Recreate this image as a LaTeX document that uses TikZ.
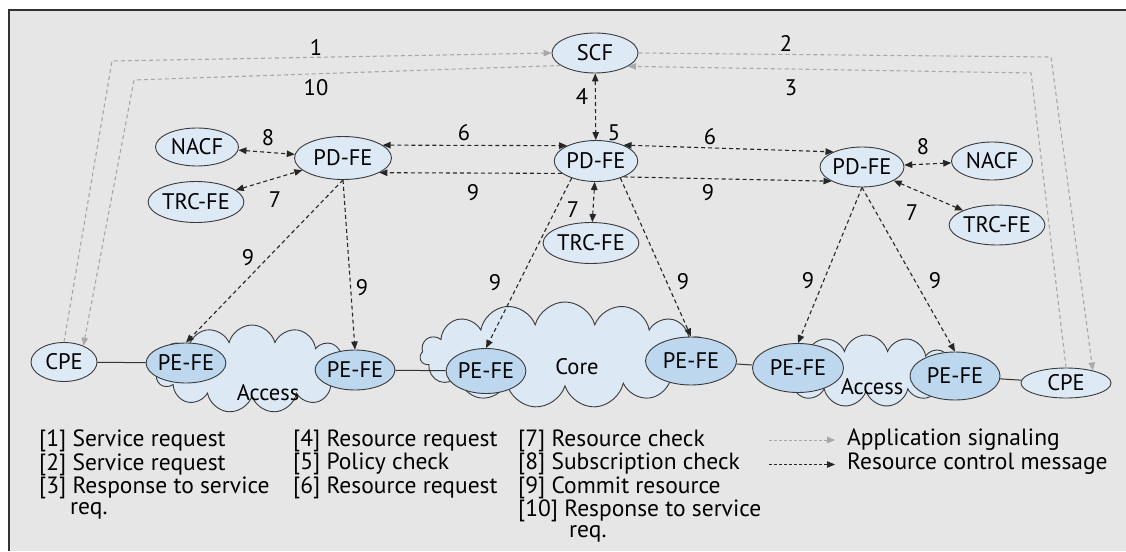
\documentclass[tikz,border=0pt]{standalone}
\usepackage{fontspec}
\setmainfont{PT Sans}
\usepackage{tikz}
\usetikzlibrary{arrows.meta}
\usetikzlibrary{shapes.geometric,shapes.symbols}
\usetikzlibrary{positioning}

\definecolor{panel}{HTML}{E6E6E6}
\definecolor{feblue}{HTML}{DDEAF6}
\definecolor{peblue}{HTML}{BDD7EE}
\definecolor{cloudblue}{HTML}{DCE9F5}
\definecolor{edgegray}{HTML}{3A3A3A}
\definecolor{appgray}{HTML}{A8A8A8}

\begin{document}
\begin{tikzpicture}[
	x=1pt, y=-1pt,
	font=\fontsize{22.5}{21.5}\selectfont,
  > = {Triangle[length=8pt,width=6.5pt]},
  fe/.style = {draw=edgegray, fill=feblue, ellipse, inner sep=0pt, line width=0.9pt},
  pe/.style = {fe, fill=peblue},
  net/.style = {draw=edgegray, fill=cloudblue, cloud, cloud puffs=13, cloud ignores aspect, inner sep=0pt, line width=0.9pt},
  rc/.style = {draw=black!85, dash pattern=on 4pt off 3pt, line width=1.1pt},
  app/.style = {draw=appgray, dash pattern=on 4pt off 3pt, line width=1.1pt, >={Triangle[length=8pt,width=6.5pt,fill=appgray]}},
  num/.style = {inner sep=1pt},
  link/.style = {draw=black!80, line width=1pt},
  key/.style = {inner sep=0pt, font=\fontsize{23.5}{21.5}\selectfont}
  ]
	\useasboundingbox (0,0) rectangle (1126,551);
	\fill[white] (0,0) rectangle (1126,551);
	\fill[panel] (9,10) rectangle (1126,551);
	\draw[line width=1.6pt, draw=black!80] (9,551) -- (9,10) -- (1126,10);

	% networks
	\node[net, minimum width=196pt, minimum height=88pt] (accL) at (252,369) {};
	\node[net, minimum width=290pt, minimum height=106pt, cloud puffs=15] (core) at (565,355) {};
	\node[net, minimum width=182pt, minimum height=72pt] (accR) at (866,371) {};
	\node (accLtxt) at (268,393) {Access};
	\node (coretxt) at (577,367) {Core};
	\node (accRtxt) at (872,387) {Access};

	% functional entities
	\node[fe, minimum width=86pt, minimum height=40pt] (scf) at (595,53) {SCF};
	\node[fe, minimum width=97pt, minimum height=43pt] (pdL) at (343,158) {PD-FE};
	\node[fe, minimum width=82pt, minimum height=41pt] (pdM) at (596,161) {PD-FE};
	\node[fe, minimum width=84pt, minimum height=40pt] (pdR) at (862,167) {PD-FE};
	\node[fe, minimum width=83pt, minimum height=38pt] (nacfL) at (197,147) {NACF};
	\node[fe, minimum width=91pt, minimum height=41pt] (trcL) at (196,202) {TRC-FE};
	\node[fe, minimum width=90pt, minimum height=41pt] (trcM) at (591,243) {TRC-FE};
	\node[fe, minimum width=81pt, minimum height=38pt] (nacfR) at (992,161) {NACF};
	\node[fe, minimum width=90pt, minimum height=40pt] (trcR) at (997,225) {TRC-FE};
	\node[fe, minimum width=66pt, minimum height=39pt] (cpeL) at (64,362) {CPE};
	\node[fe, minimum width=90pt, minimum height=30pt] (cpeR) at (1066,383) {CPE};

	\node[pe, minimum width=79pt, minimum height=40pt] (pe1) at (186,363) {PE-FE};
	\node[pe, minimum width=79pt, minimum height=40pt] (pe2) at (355,370) {PE-FE};
	\node[pe, minimum width=79pt, minimum height=45pt] (pe3) at (486,371) {PE-FE};
	\node[pe, minimum width=91pt, minimum height=48pt] (pe4) at (691,361) {PE-FE};
	\node[pe, minimum width=91pt, minimum height=49pt] (pe5) at (798,368) {PE-FE};
	\node[pe, minimum width=90pt, minimum height=48pt] (pe6) at (955,376) {PE-FE};

	\draw[link] (cpeL) -- (pe1);
	\draw[link] (pe2) -- (pe3);
	\draw[link] (pe4) -- (pe5);
	\draw[link] (pe6) -- (cpeR);

	% application signaling
	\coordinate (c1) at (112,61);
	\coordinate (c10) at (134,80);
	\coordinate (c2) at (1051,57);
	\coordinate (c3) at (1031,73);
	\draw[app,->] (cpeL.north) -- (c1) -- (scf.west);
	\draw[app,->] (scf.200) -- (c10) -- (cpeL.40);
	\draw[app,->] (scf.east) -- (c2) -- (cpeR.25);
	\draw[app,->] (cpeR.north) -- (c3) -- (scf.-22);

	% resource control
	\draw[rc,<->] (scf) -- (pdM);
	\draw[rc,<->] (pdL.18) -- (pdM.152);
	\draw[rc,->] (pdM.200) -- (pdL.-22);
	\draw[rc,<->] (pdM.30) -- (pdR.152);
	\draw[rc,->] (pdM.-30) -- (pdR.205);
	\draw[rc,<->] (nacfL) -- (pdL);
	\draw[rc,<->] (trcL) -- (pdL);
	\draw[rc,<->] (pdM) -- (trcM);
	\draw[rc,<->] (pdR) -- (nacfR);
	\draw[rc,<->] (pdR) -- (trcR);
	\draw[rc,->] (pdL.south) -- (pe1.north);
	\draw[rc,->] (pdL.south) -- (pe2.north);
	\draw[rc,->] (pdM.215) -- (pe3.north);
	\draw[rc,->] (pdM.325) -- (pe4.north);
	\draw[rc,->] (pdR.south) -- (pe5.north);
	\draw[rc,->] (pdR.south) -- (pe6.north);

	% step numbers
	\node[num] (n1) at (316,47) {1};
	\node[num] (n10) at (316,88) {10};
	\node[num] (n2) at (786,43) {2};
	\node[num] (n3) at (791,88) {3};
	\node[num] (n4) at (582,97) {4};
	\node[num] (n5) at (614,133) {5};
	\node[num] (n6a) at (464,133) {6};
	\node[num] (n9a) at (473,193) {9};
	\node[num] (n6b) at (710,137) {6};
	\node[num] (n9b) at (708,193) {9};
	\node[num] (n8a) at (268,138) {8};
	\node[num] (n7a) at (275,200) {7};
	\node[num] (n7b) at (573,210) {7};
	\node[num] (n8b) at (923,147) {8};
	\node[num] (n7c) at (912,213) {7};
	\node[num] (n9c) at (248,258) {9};
	\node[num] (n9d) at (362,288) {9};
	\node[num] (n9e) at (495,283) {9};
	\node[num] (n9f) at (683,282) {9};
	\node[num] (n9g) at (808,281) {9};
	\node[num] (n9h) at (935,281) {9};

	% key
	\node[key, anchor=north west, align=left] (keyA) at (39,430)
		{{[1]} Service request\\ {[2]} Service request\\ {[3]} Response to service\\ \hspace*{31pt}req.};
	\node[key, anchor=north west, align=left] (keyB) at (293,430)
		{{[4]} Resource request\\ {[5]} Policy check\\ {[6]} Resource request};
	\node[key, anchor=north west, align=left] (keyC) at (518,430)
		{{[7]} Resource check\\ {[8]} Subscription check\\ {[9]} Commit resource\\ {[10]} Response to service\\ \hspace*{51pt}req.};
	\node[key, anchor=west, text height=13pt, text depth=3pt] (appKey) at (847,440) {Application signaling};
	\node[key, anchor=west, text height=13pt, text depth=3pt] (rcKey) at (847,464.5) {Resource control message};
	\coordinate (appTail) at (769,440);
	\coordinate (rcTail) at (769,464.5);
	\draw[app,->,line width=0.8pt,dash pattern=on 3pt off 2pt] (appTail) -- (appKey.west) [shorten >=12pt];
	\draw[rc,->,line width=0.8pt,dash pattern=on 3pt off 2pt] (rcTail) -- (rcKey.west) [shorten >=12pt];

\end{tikzpicture}
\end{document}
